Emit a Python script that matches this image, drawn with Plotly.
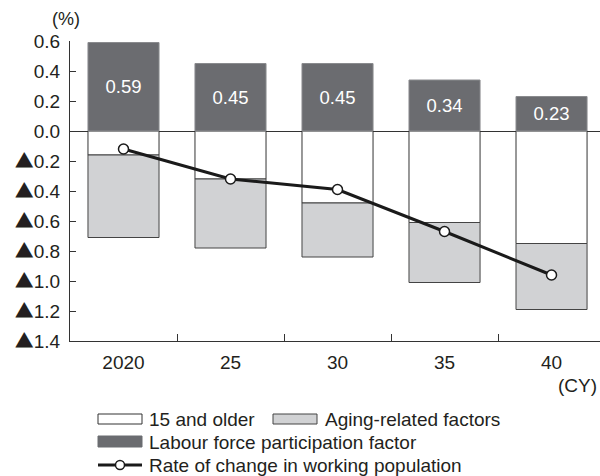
import plotly.graph_objects as go

# Calendar years (2020, then 2025, 2030, ...)
years = ["2020", "25", "30", "35", "40"]

# Contributions (percentage points)
older_15 = [-0.16, -0.32, -0.48, -0.61, -0.75]        # 15 and older
aging = [-0.55, -0.46, -0.36, -0.40, -0.44]           # aging-related factors
participation = [0.59, 0.45, 0.45, 0.34, 0.23]        # labour force participation factor
working_pop = [-0.12, -0.32, -0.39, -0.67, -0.96]     # rate of change in working population

y_ticks = [0.6, 0.4, 0.2, 0.0, -0.2, -0.4, -0.6, -0.8, -1.0, -1.2, -1.4]
TRI = "<span style=\"font-family:'Noto Sans CJK JP'\">▲</span>"
y_tick_text = ["0.6", "0.4", "0.2", "0.0"] + [
    TRI + s for s in ["0.2", "0.4", "0.6", "0.8", "1.0", "1.2", "1.4"]
]

INK = "#231f20"
DARK = "#6b6c70"
LIGHT = "#d1d2d4"
FONT = "Liberation Sans, Arial, sans-serif"

W, H = 600, 476
L, T, PW, PH = 70, 41, 530, 300


def px(x):
    return (x - L) / PW


def py(y):
    return (T + PH - y) / PH


fig = go.Figure()

fig.add_trace(go.Bar(
    x=years, y=older_15, name="15 and older",
    marker=dict(color="white", line=dict(color="#333333", width=1)),
    showlegend=False, hoverinfo="skip",
))
fig.add_trace(go.Bar(
    x=years, y=aging, name="Aging-related factors",
    marker=dict(color=LIGHT, line=dict(color="#444444", width=1)),
    showlegend=False,
))
fig.add_trace(go.Bar(
    x=years, y=participation, name="Labour force participation factor",
    marker=dict(color=DARK, line=dict(color="#8a8b8e", width=1)),
    text=participation, texttemplate="%{y:.2f}",
    textposition="inside", insidetextanchor="middle", textangle=0,
    textfont=dict(color="white", size=18.5, family=FONT),
    constraintext="none",
    showlegend=False,
))
fig.add_trace(go.Scatter(
    x=years, y=working_pop, name="Rate of change in working population",
    mode="lines+markers",
    line=dict(color="#1a1a1a", width=3),
    marker=dict(symbol="circle", size=10, color="white",
                line=dict(color="#1a1a1a", width=1.5)),
    showlegend=False,
))

# Hand-built legend below the plot
shapes = []
annotations = []


def legend_box(x0, x1, y0, y1, fill, outline):
    shapes.append(dict(type="rect", xref="paper", yref="paper",
                       x0=px(x0), x1=px(x1), y0=py(y1), y1=py(y0),
                       fillcolor=fill, line=dict(color=outline, width=1)))


def legend_text(x, y, s):
    annotations.append(dict(xref="paper", yref="paper", x=px(x), y=py(y),
                            text=s, showarrow=False, xanchor="left",
                            yanchor="middle",
                            font=dict(size=19, color=INK, family=FONT)))


legend_box(98, 142, 414, 424, "white", "#333333")
legend_text(147, 419, "15 and older")
legend_box(273, 317, 414, 424, LIGHT, "#444444")
legend_text(323, 419, "Aging-related factors")
legend_box(98, 142, 436, 447, DARK, DARK)
legend_text(147, 442, "Labour force participation factor")
shapes.append(dict(type="line", xref="paper", yref="paper",
                   x0=px(98), x1=px(142), y0=py(465), y1=py(465),
                   line=dict(color="#1a1a1a", width=3)))
shapes.append(dict(type="circle", xref="paper", yref="paper",
                   x0=px(115.5), x1=px(124.5), y0=py(469.5), y1=py(460.5),
                   fillcolor="white", line=dict(color="#1a1a1a", width=1.5)))
legend_text(147, 465, "Rate of change in working population")

annotations.append(dict(xref="paper", yref="paper", x=px(66), y=py(19),
                        text="(%)", showarrow=False, xanchor="center",
                        yanchor="middle",
                        font=dict(size=18, color=INK, family=FONT)))
annotations.append(dict(xref="paper", yref="paper", x=px(599), y=py(385),
                        text="(CY)", showarrow=False, xanchor="right",
                        yanchor="middle",
                        font=dict(size=19, color=INK, family=FONT)))

fig.update_layout(
    width=W, height=H,
    margin=dict(l=L, r=W - L - PW, t=T, b=H - T - PH),
    barmode="relative", bargap=0.336,
    plot_bgcolor="white", paper_bgcolor="white",
    font=dict(family=FONT, color=INK, size=19),
    shapes=shapes, annotations=annotations,
    showlegend=False,
)
fig.update_xaxes(
    type="category", range=[-0.5, 4.453],
    showline=True, linecolor="#333333", linewidth=1,
    ticks="inside", tickson="boundaries", ticklen=7, tickcolor="#333333",
    showgrid=False, zeroline=False, ticklabelstandoff=4,
    tickfont=dict(size=19, color=INK, family=FONT),
)
fig.update_yaxes(
    range=[-1.4, 0.6],
    tickvals=y_ticks, ticktext=y_tick_text,
    showline=True, linecolor="#333333", linewidth=1,
    ticks="inside", ticklen=6, tickcolor="#333333",
    showgrid=False, ticklabelstandoff=5,
    zeroline=True, zerolinecolor="#333333", zerolinewidth=1,
    tickfont=dict(size=19, color=INK, family=FONT),
)

fig.write_html("out.html")
